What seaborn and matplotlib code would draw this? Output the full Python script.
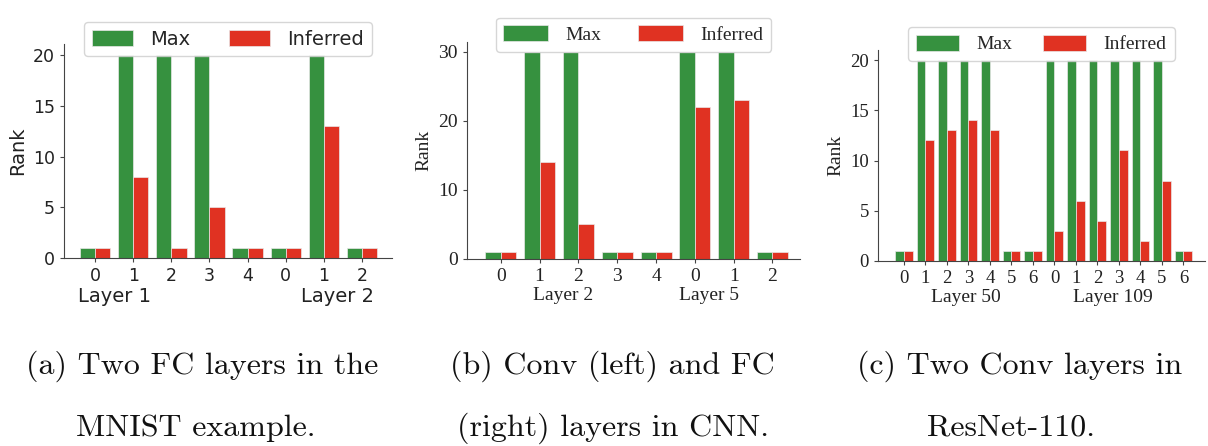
import pandas as pd
import numpy as np
import matplotlib.pyplot as plt
import seaborn as sns

# (a) MNIST, two FC layers
a_ticks = ['0', '1', '2', '3', '4', '0', '1', '2']
a_max = [1, 20, 20, 20, 1, 1, 20, 1]
a_inferred = [1, 8, 1, 5, 1, 1, 13, 1]
a_layers = ['Layer 1', 'Layer 2']

# (b) CNN, conv layer and FC layer
b_ticks = ['0', '1', '2', '3', '4', '0', '1', '2']
b_max = [1, 30, 30, 1, 1, 30, 30, 1]
b_inferred = [1, 14, 5, 1, 1, 22, 23, 1]
b_layers = ['Layer 2', 'Layer 5']

# (c) ResNet-110, two conv layers
c_ticks = ['0', '1', '2', '3', '4', '5', '6', '0', '1', '2', '3', '4', '5', '6']
c_max = [1, 20, 20, 20, 20, 1, 1, 20, 20, 20, 20, 20, 20, 1]
c_inferred = [1, 12, 13, 14, 13, 1, 1, 3, 6, 4, 11, 2, 8, 1]
c_layers = ['Layer 50', 'Layer 109']

captions = [
    ['(a) Two FC layers in the', 'MNIST example.'],
    ['(b) Conv (left) and FC', '(right) layers in CNN.'],
    ['(c) Two Conv layers in', 'ResNet-110.'],
]

green = '#36913f'
red = '#e03222'

sns.set_style('ticks')
plt.rcParams['axes.edgecolor'] = '#444444'
plt.rcParams['xtick.color'] = '#444444'
plt.rcParams['ytick.color'] = '#444444'
plt.rcParams['xtick.major.size'] = 3
plt.rcParams['ytick.major.size'] = 3

fig = plt.figure(figsize=(12.08, 4.46), dpi=100)


def panel(rect, ticks, mx, inf, layers, layer_x, layer_y, xlim, ylim, yticks,
          family, tsize, lsize, legsize, leg_y, hl, cs):
    ax = fig.add_axes(rect)
    n = len(ticks)
    df = pd.DataFrame({
        'pos': list(range(n)) * 2,
        'rank': mx + inf,
        'kind': ['Max'] * n + ['Inferred'] * n,
    })
    sns.barplot(data=df, x='pos', y='rank', hue='kind', palette=[green, red],
                saturation=1, edgecolor='#e8e8e8', linewidth=0.5, ax=ax)
    sns.despine(ax=ax)
    ax.set_xlim(*xlim)
    ax.set_ylim(*ylim)
    ax.set_yticks(yticks)
    ax.set_xticks(range(n))
    ax.set_xticklabels(ticks)
    ax.set_xlabel('')
    ax.set_ylabel('Rank', fontsize=lsize, family=family, color='#222222')
    for lbl in ax.get_xticklabels() + ax.get_yticklabels():
        lbl.set_fontfamily(family)
        lbl.set_fontsize(tsize)
        lbl.set_color('#222222')
    for name, x in zip(layers, layer_x):
        ax.text(x, layer_y, name, transform=ax.get_xaxis_transform(),
                ha='center', va='center', fontsize=lsize, family=family,
                color='#222222')
    handles, labels = ax.get_legend_handles_labels()
    ax.legend(handles, labels, ncol=2, loc='upper center',
              bbox_to_anchor=(0.5, leg_y), prop={'family': family, 'size': legsize},
              handlelength=hl, handleheight=0.9, handletextpad=0.9,
              columnspacing=cs, frameon=True, borderpad=0.4)
    return ax


panel([0.053, 0.4215, 0.2715, 0.4795], a_ticks, a_max, a_inferred, a_layers,
      [0.52, 6.34], -0.178, (-0.81, 7.78), (0, 21.1), [0, 5, 10, 15, 20],
      'DejaVu Sans', 12.5, 14, 14, 1.15, 2.1, 2.0)

panel([0.3866, 0.4193, 0.2757, 0.4867], b_ticks, b_max, b_inferred, b_layers,
      [1.6, 5.37], -0.166, (-0.87, 7.71), (0, 31.45), [0, 10, 20, 30],
      'Liberation Serif', 14, 14, 14, 1.157, 2.3, 1.9)

panel([0.7268, 0.4148, 0.2707, 0.4732], c_ticks, c_max, c_inferred, c_layers,
      [2.9, 9.7], -0.175, (-1.21, 14.0), (0, 21.0), [0, 5, 10, 15, 20],
      'Liberation Serif', 13.5, 14, 14, 1.156, 2.2, 1.6)

cap_x = [[202, 196], [612, 613], [1020, 1011]]
cap_y = [366, 428]
for cap, xs in zip(captions, cap_x):
    for line, x, y in zip(cap, xs, cap_y):
        fig.text(x / 1208, 1 - y / 446, line, ha='center', va='center',
                 fontsize=23, family='cmr10', color='#111111')

fig.savefig('out.png', dpi=100)
